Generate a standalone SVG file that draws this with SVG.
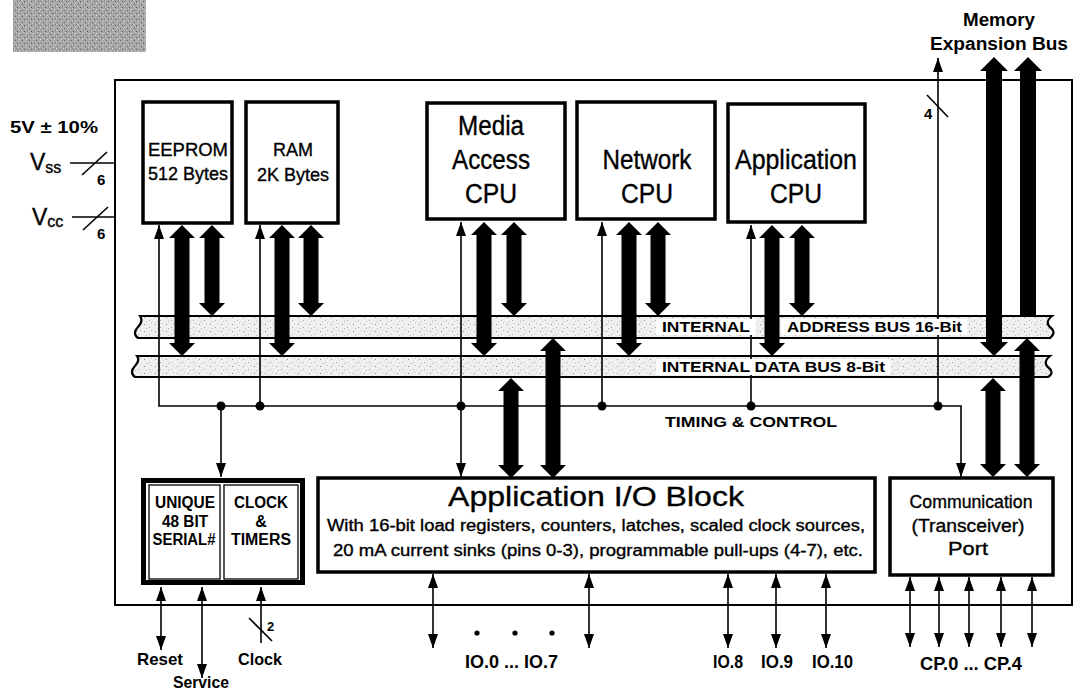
<svg xmlns="http://www.w3.org/2000/svg" width="1074" height="693" viewBox="0 0 1074 693">
<style>
.box{fill:#fff;stroke:#000;stroke-width:3.5}
.chip{fill:none;stroke:#000;stroke-width:2}
.thin{stroke:#000;stroke-width:1.6;fill:none}
.arr{marker-start:url(#ah);}
.arr2{marker-start:url(#ah);marker-end:url(#ah)}
.arre{marker-end:url(#ah)}
.thick{fill:#000}
.bus{fill:url(#speck);stroke:#000;stroke-width:2.2}
.t{font-family:"Liberation Sans",Arial,Helvetica,sans-serif;fill:#000;stroke:#000;stroke-width:0.35}
.c{text-anchor:middle}
.b{font-weight:bold;stroke-width:0}
.dot{fill:#000}
</style>
<defs>
<pattern id="speck" width="11" height="7" patternUnits="userSpaceOnUse">
<rect width="11" height="7" fill="#efefef"/>
<rect x="1" y="2" width="1" height="1" fill="#8e8e8e"/>
<rect x="6" y="5" width="1" height="1" fill="#aaaaaa"/>
<rect x="8" y="1" width="1" height="1" fill="#c0c0c0"/>
<rect x="3" y="6" width="1" height="1" fill="#b8b8b8"/>
</pattern>
<pattern id="grain" width="7" height="6" patternUnits="userSpaceOnUse">
<rect width="7" height="6" fill="#a6a6a6"/>
<rect x="0" y="0" width="1" height="1" fill="#d8d8d8"/>
<rect x="3" y="1" width="1" height="1" fill="#5a5a5a"/>
<rect x="5" y="3" width="1" height="1" fill="#e0e0e0"/>
<rect x="1" y="4" width="1" height="1" fill="#6a6a6a"/>
<rect x="4" y="5" width="1" height="1" fill="#cfcfcf"/>
<rect x="6" y="0" width="1" height="1" fill="#787878"/>
<rect x="2" y="2" width="1" height="1" fill="#c8c8c8"/>
</pattern>
<marker id="ah" viewBox="0 0 14 10" refX="14" refY="5" markerWidth="14" markerHeight="10" markerUnits="userSpaceOnUse" orient="auto-start-reverse">
<path d="M0,0 L14,5 L0,10 z" fill="#000"/>
</marker>
</defs>

<rect x="0" y="0" width="1074" height="693" fill="#fff"/>
<rect id="corner" x="13" y="0" width="133" height="52" fill="url(#grain)"/>

<rect id="chip" class="chip" x="115" y="80" width="957" height="525"/>

<g id="buses">
<path id="address-bus" class="bus" d="M140,316 H1052 C1046,321 1047,325 1051,328 C1055,331 1054,335 1050,338 H138 C134,335 134,331 138,327 C142,323 142,319 140,316 Z"/>
<path id="data-bus" class="bus" d="M137,356 H1050 C1044,361 1045,365 1049,368 C1053,371 1052,375 1048,377 H135 C131,374 131,370 135,366 C139,362 139,359 137,356 Z"/>
</g>

<g id="connectors">
<polyline class="thin arr2" points="159,225 159,406 961,406 961,477"/>
<line class="thin arr" x1="260" y1="225" x2="260" y2="406"/>
<line class="thin arre" x1="221" y1="406" x2="221" y2="477"/>
<line class="thin arr2" x1="461" y1="222" x2="461" y2="477"/>
<line class="thin arr" x1="602" y1="222" x2="602" y2="406"/>
<line class="thin arr" x1="751" y1="225" x2="751" y2="406"/>
<line class="thin arr" x1="938" y1="58" x2="938" y2="406"/>
<line class="thin" x1="927" y1="95" x2="948" y2="117"/>

<line class="thin" x1="70" y1="163" x2="115" y2="163"/>
<line class="thin" x1="82" y1="175" x2="107" y2="152"/>
<line class="thin" x1="72" y1="217" x2="115" y2="217"/>
<line class="thin" x1="83" y1="230" x2="108" y2="207"/>

<line class="thin arr2" x1="161" y1="587" x2="161" y2="650"/>
<line class="thin arr2" x1="202" y1="587" x2="202" y2="678"/>
<line class="thin arr" x1="261" y1="587" x2="261" y2="643"/>
<line class="thin" x1="249" y1="618" x2="272" y2="641"/>

<line class="thin arr2" x1="433" y1="574" x2="433" y2="648"/>
<line class="thin arr2" x1="589" y1="574" x2="589" y2="648"/>
<line class="thin arr2" x1="728" y1="574" x2="728" y2="648"/>
<line class="thin arr2" x1="776" y1="574" x2="776" y2="648"/>
<line class="thin arr2" x1="826" y1="574" x2="826" y2="648"/>

<line class="thin arr2" x1="910" y1="577" x2="910" y2="647"/>
<line class="thin arr2" x1="939" y1="577" x2="939" y2="647"/>
<line class="thin arr2" x1="969" y1="577" x2="969" y2="647"/>
<line class="thin arr2" x1="1001" y1="577" x2="1001" y2="647"/>
<line class="thin arr2" x1="1032" y1="577" x2="1032" y2="647"/>

<circle class="dot" cx="221" cy="406" r="4.5"/>
<circle class="dot" cx="260" cy="406" r="4.5"/>
<circle class="dot" cx="461" cy="406" r="4.5"/>
<circle class="dot" cx="602" cy="406" r="4.5"/>
<circle class="dot" cx="751" cy="406" r="4.5"/>
<circle class="dot" cx="938" cy="406" r="4.5"/>

<polygon class="thick" points="182,225 195,238 189.5,238 189.5,343 195,343 182,356 169,343 174.5,343 174.5,238 169,238"/>
<polygon class="thick" points="212,225 225,238 219.5,238 219.5,303 225,303 212,316 199,303 204.5,303 204.5,238 199,238"/>
<polygon class="thick" points="282,225 295,238 289.5,238 289.5,343 295,343 282,356 269,343 274.5,343 274.5,238 269,238"/>
<polygon class="thick" points="311,225 324,238 318.5,238 318.5,303 324,303 311,316 298,303 303.5,303 303.5,238 298,238"/>
<polygon class="thick" points="484,222 497,235 491.5,235 491.5,343 497,343 484,356 471,343 476.5,343 476.5,235 471,235"/>
<polygon class="thick" points="514,222 527,235 521.5,235 521.5,303 527,303 514,316 501,303 506.5,303 506.5,235 501,235"/>
<polygon class="thick" points="629,222 642,235 636.5,235 636.5,343 642,343 629,356 616,343 621.5,343 621.5,235 616,235"/>
<polygon class="thick" points="658,222 671,235 665.5,235 665.5,303 671,303 658,316 645,303 650.5,303 650.5,235 645,235"/>
<polygon class="thick" points="772,225 785,238 779.5,238 779.5,343 785,343 772,356 759,343 764.5,343 764.5,238 759,238"/>
<polygon class="thick" points="802,225 815,238 809.5,238 809.5,303 815,303 802,316 789,303 794.5,303 794.5,238 789,238"/>
<polygon class="thick" points="511,378 524,391 518.5,391 518.5,465 524,465 511,478 498,465 503.5,465 503.5,391 498,391"/>
<polygon class="thick" points="553,338 566,351 560.5,351 560.5,465 566,465 553,478 540,465 545.5,465 545.5,351 540,351"/>
<polygon class="thick" points="993,378 1006,391 1000.5,391 1000.5,464 1006,464 993,477 980,464 985.5,464 985.5,391 980,391"/>
<polygon class="thick" points="1027,338 1040,351 1034.5,351 1034.5,464 1040,464 1027,477 1014,464 1019.5,464 1019.5,351 1014,351"/>
<polygon class="thick" points="994,57 1008,71 1002,71 1002,342 1008,342 994,356 980,342 986,342 986,71 980,71"/>
<polygon class="thick" points="1028,57 1042,71 1036,71 1036,316 1020,316 1020,71 1014,71"/>
</g>

<g id="bus-labels">
<rect x="656" y="319" width="100" height="16" fill="#fff"/>
<rect x="781" y="319" width="186" height="16" fill="#fff"/>
<rect x="656" y="359" width="234" height="16" fill="#fff"/>
<text class="t b" x="662" y="332" font-size="15" textLength="88" lengthAdjust="spacingAndGlyphs">INTERNAL</text>
<text class="t b" x="787" y="332" font-size="15" textLength="175" lengthAdjust="spacingAndGlyphs">ADDRESS BUS 16-Bit</text>
<text class="t b" x="662" y="372" font-size="15" textLength="223" lengthAdjust="spacingAndGlyphs">INTERNAL DATA BUS 8-Bit</text>
<text class="t b" x="665" y="427" font-size="15" textLength="172" lengthAdjust="spacingAndGlyphs">TIMING &amp; CONTROL</text>
</g>

<g id="eeprom">
<rect class="box" x="143" y="102" width="89" height="121"/>
<text class="t c" x="188" y="156" font-size="19" textLength="80" lengthAdjust="spacingAndGlyphs">EEPROM</text>
<text class="t c" x="188" y="180" font-size="19" textLength="80" lengthAdjust="spacingAndGlyphs">512 Bytes</text>
</g>
<g id="ram">
<rect class="box" x="246" y="102" width="92" height="121"/>
<text class="t c" x="293" y="156" font-size="19" textLength="40" lengthAdjust="spacingAndGlyphs">RAM</text>
<text class="t c" x="293" y="181" font-size="19" textLength="72" lengthAdjust="spacingAndGlyphs">2K Bytes</text>
</g>
<g id="media-cpu">
<rect class="box" x="427" y="103" width="138" height="116"/>
<text class="t c" x="491" y="135" font-size="27" textLength="66" lengthAdjust="spacingAndGlyphs">Media</text>
<text class="t c" x="491" y="169" font-size="27" textLength="78" lengthAdjust="spacingAndGlyphs">Access</text>
<text class="t c" x="491" y="203" font-size="27" textLength="52" lengthAdjust="spacingAndGlyphs">CPU</text>
</g>
<g id="network-cpu">
<rect class="box" x="577" y="102" width="138" height="117"/>
<text class="t c" x="647" y="169" font-size="27" textLength="89" lengthAdjust="spacingAndGlyphs">Network</text>
<text class="t c" x="647" y="203" font-size="27" textLength="52" lengthAdjust="spacingAndGlyphs">CPU</text>
</g>
<g id="application-cpu">
<rect class="box" x="728" y="104" width="137" height="118"/>
<text class="t c" x="796" y="169" font-size="27" textLength="122" lengthAdjust="spacingAndGlyphs">Application</text>
<text class="t c" x="796" y="203" font-size="27" textLength="52" lengthAdjust="spacingAndGlyphs">CPU</text>
</g>

<g id="serial-clock">
<rect x="143.5" y="480.5" width="159" height="102" fill="#fff" stroke="#000" stroke-width="5"/>
<rect x="149" y="485" width="71" height="94" fill="none" stroke="#000" stroke-width="1.3"/>
<rect x="224" y="485" width="74" height="94" fill="none" stroke="#000" stroke-width="1.3"/>
<text class="t c b" x="185" y="508" font-size="16" textLength="60" lengthAdjust="spacingAndGlyphs">UNIQUE</text>
<text class="t c b" x="185" y="527" font-size="16" textLength="46" lengthAdjust="spacingAndGlyphs">48 BIT</text>
<text class="t c b" x="184" y="545" font-size="16" textLength="63" lengthAdjust="spacingAndGlyphs">SERIAL#</text>
<text class="t c b" x="261" y="508" font-size="16" textLength="54" lengthAdjust="spacingAndGlyphs">CLOCK</text>
<text class="t c b" x="261" y="527" font-size="16">&amp;</text>
<text class="t c b" x="261" y="545" font-size="16" textLength="60" lengthAdjust="spacingAndGlyphs">TIMERS</text>
</g>

<g id="app-io">
<rect class="box" x="318" y="478" width="557" height="94"/>
<text class="t c" x="596" y="506" font-size="28" textLength="296" lengthAdjust="spacingAndGlyphs">Application I/O Block</text>
<text class="t c" x="596" y="531" font-size="16" textLength="538" lengthAdjust="spacingAndGlyphs">With 16-bit load registers, counters, latches, scaled clock sources,</text>
<text class="t c" x="598" y="556" font-size="16" textLength="530" lengthAdjust="spacingAndGlyphs">20 mA current sinks (pins 0-3), programmable pull-ups (4-7), etc.</text>
</g>

<g id="comm-port">
<rect class="box" x="890" y="478" width="163" height="97"/>
<text class="t c" x="971" y="508" font-size="19" textLength="123" lengthAdjust="spacingAndGlyphs">Communication</text>
<text class="t c" x="968" y="532" font-size="19" textLength="113" lengthAdjust="spacingAndGlyphs">(Transceiver)</text>
<text class="t c" x="968" y="555" font-size="19" textLength="40" lengthAdjust="spacingAndGlyphs">Port</text>
</g>

<g id="labels">
<text class="t c b" x="999" y="26" font-size="18" textLength="72" lengthAdjust="spacingAndGlyphs">Memory</text>
<text class="t c b" x="999" y="50" font-size="18" textLength="138" lengthAdjust="spacingAndGlyphs">Expansion Bus</text>
<text class="t b" x="924" y="119" font-size="15">4</text>
<text class="t b" x="10" y="133" font-size="17" textLength="88" lengthAdjust="spacingAndGlyphs">5V ± 10%</text>
<text class="t" x="30" y="170" font-size="23">V<tspan font-size="16" dy="3">ss</tspan></text>
<text class="t b" x="97" y="185" font-size="15">6</text>
<text class="t" x="32" y="225" font-size="23">V<tspan font-size="16" dy="2">cc</tspan></text>
<text class="t b" x="97" y="239" font-size="15">6</text>
<text class="t b" x="267" y="631" font-size="13">2</text>
<text class="t c b" x="160" y="665" font-size="17" textLength="46" lengthAdjust="spacingAndGlyphs">Reset</text>
<text class="t c b" x="201" y="688" font-size="17" textLength="56" lengthAdjust="spacingAndGlyphs">Service</text>
<text class="t c b" x="260" y="665" font-size="17" textLength="44" lengthAdjust="spacingAndGlyphs">Clock</text>
<circle class="dot" cx="477" cy="633" r="2.6"/>
<circle class="dot" cx="515" cy="633" r="2.6"/>
<circle class="dot" cx="552" cy="633" r="2.6"/>
<text class="t b" x="465" y="668" font-size="18" textLength="93" lengthAdjust="spacingAndGlyphs">IO.0 ... IO.7</text>
<text class="t b" x="713" y="668" font-size="18" textLength="30" lengthAdjust="spacingAndGlyphs">IO.8</text>
<text class="t b" x="761" y="668" font-size="18" textLength="32" lengthAdjust="spacingAndGlyphs">IO.9</text>
<text class="t b" x="812" y="668" font-size="18" textLength="41" lengthAdjust="spacingAndGlyphs">IO.10</text>
<text class="t b" x="920" y="670" font-size="18" textLength="102" lengthAdjust="spacingAndGlyphs">CP.0 ... CP.4</text>
</g>
</svg>
